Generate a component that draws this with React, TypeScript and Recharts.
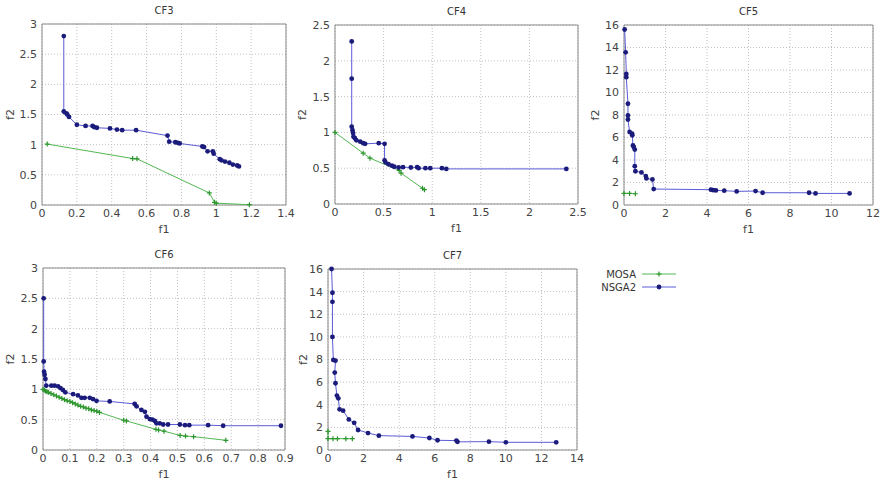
import { ScatterChart, Scatter, XAxis, YAxis, CartesianGrid, ReferenceLine } from 'recharts'

type Pt = [number, number]

// ---- CF3 ----
const cf3Mosa: Pt[] = [
  [0.03, 1.01], [0.52, 0.77], [0.545, 0.765], [0.96, 0.2], [0.99, 0.045], [1.0, 0.03], [1.19, 0.005],
]
const cf3Nsga2: Pt[] = [
  [0.125, 2.8], [0.125, 1.55], [0.14, 1.52], [0.145, 1.5], [0.155, 1.46], [0.2, 1.33], [0.25, 1.31],
  [0.29, 1.31], [0.3, 1.29], [0.315, 1.28], [0.39, 1.27], [0.43, 1.25], [0.46, 1.24], [0.54, 1.24],
  [0.72, 1.15], [0.73, 1.05], [0.765, 1.04], [0.78, 1.03], [0.79, 1.02], [0.92, 0.97], [0.93, 0.96],
  [0.95, 0.89], [0.98, 0.89], [0.985, 0.85], [1.02, 0.76], [1.03, 0.74], [1.05, 0.72], [1.075, 0.7],
  [1.095, 0.67], [1.12, 0.655], [1.13, 0.64],
]
const cf3XTicks = [0, 0.2, 0.4, 0.6, 0.8, 1, 1.2, 1.4]
const cf3YTicks = [0, 0.5, 1, 1.5, 2, 2.5, 3]

// ---- CF4 ----
const cf4Mosa: Pt[] = [
  [0, 1.0], [0.29, 0.71], [0.36, 0.64], [0.66, 0.47], [0.68, 0.43], [0.9, 0.22], [0.92, 0.2],
]
const cf4Nsga2: Pt[] = [
  [0.172, 2.27], [0.172, 1.75], [0.172, 1.08], [0.18, 1.03], [0.186, 0.99], [0.19, 0.94], [0.205, 0.92],
  [0.22, 0.89], [0.26, 0.87], [0.29, 0.85], [0.31, 0.84], [0.45, 0.85], [0.51, 0.84], [0.51, 0.61],
  [0.52, 0.58], [0.55, 0.555], [0.586, 0.535], [0.61, 0.52], [0.655, 0.51], [0.7, 0.515], [0.78, 0.51],
  [0.845, 0.515], [0.86, 0.5], [0.93, 0.5], [0.98, 0.5], [1.1, 0.5], [1.145, 0.49], [2.38, 0.49],
]
const cf4XTicks = [0, 0.5, 1, 1.5, 2, 2.5]
const cf4YTicks = [0, 0.5, 1, 1.5, 2, 2.5]

// ---- CF5 ----
const cf5Mosa: Pt[] = [[0.0, 1.03], [0.27, 1.03], [0.55, 1.0]]
const cf5Nsga2: Pt[] = [
  [0.03, 15.6], [0.08, 13.57], [0.11, 11.65], [0.11, 11.36], [0.19, 9.0], [0.19, 7.96], [0.19, 7.6],
  [0.27, 6.49], [0.39, 6.34], [0.4, 6.2], [0.43, 5.3], [0.47, 5.16], [0.52, 4.93], [0.52, 3.45],
  [0.55, 3.0], [0.84, 2.9], [1.05, 2.57], [1.08, 2.36], [1.37, 2.27], [1.43, 1.42], [4.19, 1.36],
  [4.3, 1.32], [4.43, 1.3], [4.83, 1.27], [5.43, 1.21], [6.34, 1.24], [6.68, 1.09], [8.92, 1.09],
  [9.23, 1.03], [10.87, 1.03],
]
const cf5XTicks = [0, 2, 4, 6, 8, 10, 12]
const cf5YTicks = [0, 2, 4, 6, 8, 10, 12, 14, 16]

// ---- CF6 ----
const cf6Mosa: Pt[] = [
  [0, 1.0], [0.005, 0.985], [0.01, 0.97], [0.015, 0.96], [0.02, 0.95], [0.03, 0.93], [0.04, 0.91],
  [0.05, 0.89], [0.06, 0.87], [0.07, 0.85], [0.08, 0.83], [0.09, 0.81], [0.1, 0.8], [0.11, 0.78],
  [0.12, 0.76], [0.13, 0.74], [0.14, 0.72], [0.15, 0.71], [0.16, 0.69], [0.17, 0.68], [0.18, 0.66],
  [0.19, 0.65], [0.2, 0.64], [0.21, 0.62], [0.3, 0.49], [0.31, 0.48], [0.42, 0.34], [0.43, 0.33],
  [0.45, 0.31], [0.51, 0.24], [0.53, 0.23], [0.56, 0.22], [0.68, 0.16],
]
const cf6Nsga2: Pt[] = [
  [0.0025, 2.5], [0.0025, 1.46], [0.004, 1.29], [0.006, 1.24], [0.009, 1.17], [0.012, 1.06],
  [0.031, 1.06], [0.043, 1.06], [0.056, 1.05], [0.065, 1.02], [0.074, 0.99], [0.083, 0.95],
  [0.112, 0.92], [0.13, 0.9], [0.143, 0.86], [0.155, 0.86], [0.174, 0.86], [0.186, 0.84],
  [0.199, 0.81], [0.248, 0.8], [0.341, 0.76], [0.348, 0.72], [0.366, 0.66], [0.379, 0.63],
  [0.385, 0.55], [0.397, 0.51], [0.407, 0.5], [0.416, 0.48], [0.422, 0.44], [0.434, 0.44],
  [0.447, 0.42], [0.465, 0.42], [0.509, 0.42], [0.528, 0.41], [0.544, 0.41], [0.614, 0.41],
  [0.67, 0.4], [0.885, 0.4],
]
const cf6XTicks = [0, 0.1, 0.2, 0.3, 0.4, 0.5, 0.6, 0.7, 0.8, 0.9]
const cf6YTicks = [0, 0.5, 1, 1.5, 2, 2.5, 3]

// ---- CF7 ----
const cf7Mosa: Pt[] = [[0, 1.65], [0, 1.0], [0.28, 1.0], [0.53, 1.0], [1.0, 1.0], [1.37, 1.0]]
const cf7Nsga2: Pt[] = [
  [0.2, 16.0], [0.25, 13.9], [0.25, 13.1], [0.25, 10.0], [0.3, 7.96], [0.42, 7.9], [0.38, 6.84],
  [0.42, 5.9], [0.5, 4.81], [0.58, 4.57], [0.65, 3.6], [0.85, 3.48], [1.17, 2.7], [1.47, 2.4],
  [1.69, 1.77], [2.25, 1.5], [2.86, 1.27], [4.75, 1.2], [5.7, 1.06], [6.16, 0.86], [7.22, 0.83],
  [7.28, 0.72], [9.05, 0.74], [10.0, 0.68], [12.83, 0.68],
]
const cf7XTicks = [0, 2, 4, 6, 8, 10, 12, 14]
const cf7YTicks = [0, 2, 4, 6, 8, 10, 12, 14, 16]

const NSGA2_LINE = '#5b5bd6'
const NSGA2_DOT = '#1b1b7c'
const MOSA_LINE = '#52b852'
const MOSA_DOT = '#2e962e'
const TEXT = '#444'
const FONT = 'DejaVu Sans, sans-serif'

const toRows = (pts: Pt[]) => pts.map(([f1, f2]) => ({ f1, f2 }))

const Dot = (props: any) => {
  const { cx, cy } = props
  if (cx == null || cy == null) return null
  return <circle cx={cx} cy={cy} r={2.4} fill={NSGA2_DOT} />
}

const Plus = (props: any) => {
  const { cx, cy } = props
  if (cx == null || cy == null) return null
  return <path d={`M${cx - 2.5},${cy}h5M${cx},${cy - 2.5}v5`} stroke={MOSA_DOT} strokeWidth={1.2} fill="none" />
}

interface PanelProps {
  title: string
  box: [number, number, number, number] // plot area: left, top, right, bottom
  xTicks: number[]
  yTicks: number[]
  mosa: Pt[]
  nsga2: Pt[]
  yLabelGap: number
}

function Panel({ title, box, xTicks, yTicks, mosa, nsga2, yLabelGap }: PanelProps) {
  const [l, t, r, b] = box
  const padL = 44
  const padT = 24
  const padR = 14
  const padB = 30
  const w = r - l + padL + padR
  const h = b - t + padT + padB
  const xMax = xTicks[xTicks.length - 1]
  const yMax = yTicks[yTicks.length - 1]
  const tickStyle = { fill: TEXT, fontSize: 11, fontFamily: FONT }

  return (
    <div style={{ position: 'absolute', left: l - padL, top: t - padT, width: w, height: h }}>
      <div
        style={{
          position: 'absolute', left: padL, width: r - l, top: padT - 19, textAlign: 'center',
          fontSize: 10, fontFamily: FONT, color: '#333', lineHeight: '12px',
        }}
      >
        {title}
      </div>
      <ScatterChart width={w} height={h} margin={{ top: padT, right: padR, left: 0, bottom: 0 }}>
        <CartesianGrid strokeDasharray="1 2" stroke="#c0c0c0" />
        <XAxis
          type="number" dataKey="f1" domain={[0, xMax]} ticks={xTicks} interval={0}
          height={padB} tick={tickStyle} tickLine={false} tickSize={3} tickMargin={1}
          axisLine={{ stroke: '#8a8a8a' }}
          label={{ value: 'f1', position: 'insideBottom', offset: 2, fill: TEXT, fontSize: 11, fontFamily: FONT }}
        />
        <YAxis
          type="number" dataKey="f2" domain={[0, yMax]} ticks={yTicks} interval={0}
          width={padL} tick={tickStyle} tickLine={false} tickSize={4} tickMargin={1}
          axisLine={{ stroke: '#8a8a8a' }}
          label={{
            value: 'f2', angle: -90, position: 'insideLeft', offset: padL - yLabelGap,
            fill: TEXT, fontSize: 11, fontFamily: FONT, style: { textAnchor: 'middle' },
          }}
        />
        <ReferenceLine y={yMax} stroke="#8a8a8a" />
        <ReferenceLine x={xMax} stroke="#8a8a8a" />
        <Scatter
          name="MOSA" data={toRows(mosa)} line={{ stroke: MOSA_LINE, strokeWidth: 1 }}
          lineJointType="linear" shape={<Plus />} isAnimationActive={false}
        />
        <Scatter
          name="NSGA2" data={toRows(nsga2)} line={{ stroke: NSGA2_LINE, strokeWidth: 1 }}
          lineJointType="linear" shape={<Dot />} isAnimationActive={false}
        />
      </ScatterChart>
    </div>
  )
}

function LegendBox() {
  const rows = [
    { name: 'MOSA', line: MOSA_LINE, marker: 'plus' },
    { name: 'NSGA2', line: NSGA2_LINE, marker: 'dot' },
  ]
  return (
    <svg style={{ position: 'absolute', left: 590, top: 262 }} width={100} height={34}>
      {rows.map((row, i) => {
        const y = 12 + i * 13
        return (
          <g key={row.name}>
            <text x={46} y={y} dy="0.35em" textAnchor="end" fontSize={10} fontFamily={FONT} fill="#333">
              {row.name}
            </text>
            <line x1={52} x2={86} y1={y} y2={y} stroke={row.line} strokeWidth={1} />
            {row.marker === 'plus' ? <Plus cx={69} cy={y} /> : <Dot cx={69} cy={y} />}
          </g>
        )
      })}
    </svg>
  )
}

export default function App() {
  return (
    <div style={{ position: 'absolute', left: 0, top: 0, width: 884, height: 481, background: '#fff', overflow: 'hidden' }}>
      <Panel title="CF3" box={[42, 24, 286, 205]} xTicks={cf3XTicks} yTicks={cf3YTicks} mosa={cf3Mosa} nsga2={cf3Nsga2} yLabelGap={32} />
      <Panel title="CF4" box={[335, 25, 578, 204]} xTicks={cf4XTicks} yTicks={cf4YTicks} mosa={cf4Mosa} nsga2={cf4Nsga2} yLabelGap={33} />
      <Panel title="CF5" box={[624, 25, 873, 205]} xTicks={cf5XTicks} yTicks={cf5YTicks} mosa={cf5Mosa} nsga2={cf5Nsga2} yLabelGap={29} />
      <Panel title="CF6" box={[43, 268, 285, 450]} xTicks={cf6XTicks} yTicks={cf6YTicks} mosa={cf6Mosa} nsga2={cf6Nsga2} yLabelGap={33} />
      <Panel title="CF7" box={[328, 269, 577, 450]} xTicks={cf7XTicks} yTicks={cf7YTicks} mosa={cf7Mosa} nsga2={cf7Nsga2} yLabelGap={25} />
      <LegendBox />
    </div>
  )
}
